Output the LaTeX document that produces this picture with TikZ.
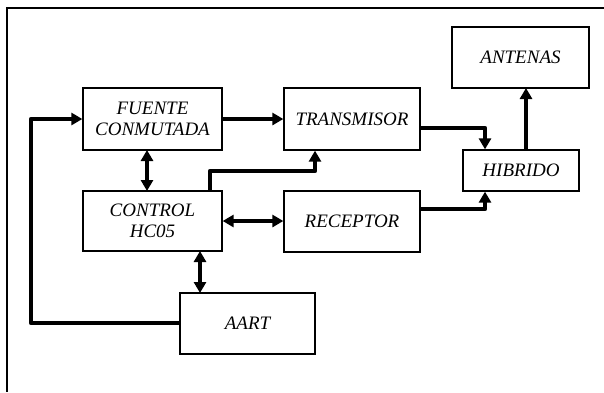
\documentclass[tikz,border=0pt]{standalone}
\usepackage{fontspec}
\setmainfont{Liberation Serif}
\usetikzlibrary{arrows.meta}
\begin{document}
\begin{tikzpicture}[x=1pt,y=-1pt,
  blk/.style={draw,line width=1.3pt,inner sep=0pt,font=\itshape\fontsize{19}{21}\selectfont,align=center},
  conn/.style={line width=4.2pt,line join=round,-{Triangle[length=11pt,width=12pt]}},
  bconn/.style={line width=4.2pt,{Triangle[length=11pt,width=12pt]}-{Triangle[length=11pt,width=12pt]}},
  frame/.style={line width=1.2pt}]
\useasboundingbox (0,0) rectangle (604,392);
\draw[frame] (604,8) -- (7,8) -- (7,392);
\node[blk,minimum width=139pt,minimum height=62pt] (fue) at (152.5,119) {FUENTE\\CONMUTADA};
\node[blk,minimum width=136pt,minimum height=62pt] (tra) at (352,119) {TRANSMISOR};
\node[blk,minimum width=137pt,minimum height=61pt] (ant) at (520.5,57.5) {ANTENAS};
\node[blk,minimum width=116pt,minimum height=41pt] (hib) at (521,170.5) {HIBRIDO};
\node[blk,minimum width=139pt,minimum height=60pt] (con) at (152.5,221) {CONTROL\\HC05};
\node[blk,minimum width=136pt,minimum height=61pt] (rec) at (352,221.5) {RECEPTOR};
\node[blk,minimum width=135pt,minimum height=61pt] (aar) at (247.5,323.5) {AART};
\coordinate (l1) at (31,323);
\coordinate (l2) at (31,119);
\coordinate (c1) at (210,171);
\coordinate (c2) at (315,171);
\coordinate (t1) at (485,128);
\coordinate (r1) at (485,209);
\draw[conn] (aar.west |- l1) -- (l1) -- (l2) -- (fue.west |- l2);
\draw[conn] (fue.east) -- (tra.west);
\draw[bconn] (147,150) -- (147,191);
\draw[conn] (c1 |- con.north) -- (c1) -- (c2) -- (c2 |- tra.south);
\draw[bconn] (con.east |- 0,221) -- (rec.west |- 0,221);
\draw[bconn] (200,251) -- (200,293);
\draw[conn] (tra.east |- t1) -- (t1) -- (t1 |- hib.north);
\draw[conn] (rec.east |- r1) -- (r1) -- (r1 |- hib.south);
\draw[conn] (526,150) -- (526,88);
\end{tikzpicture}
\end{document}
